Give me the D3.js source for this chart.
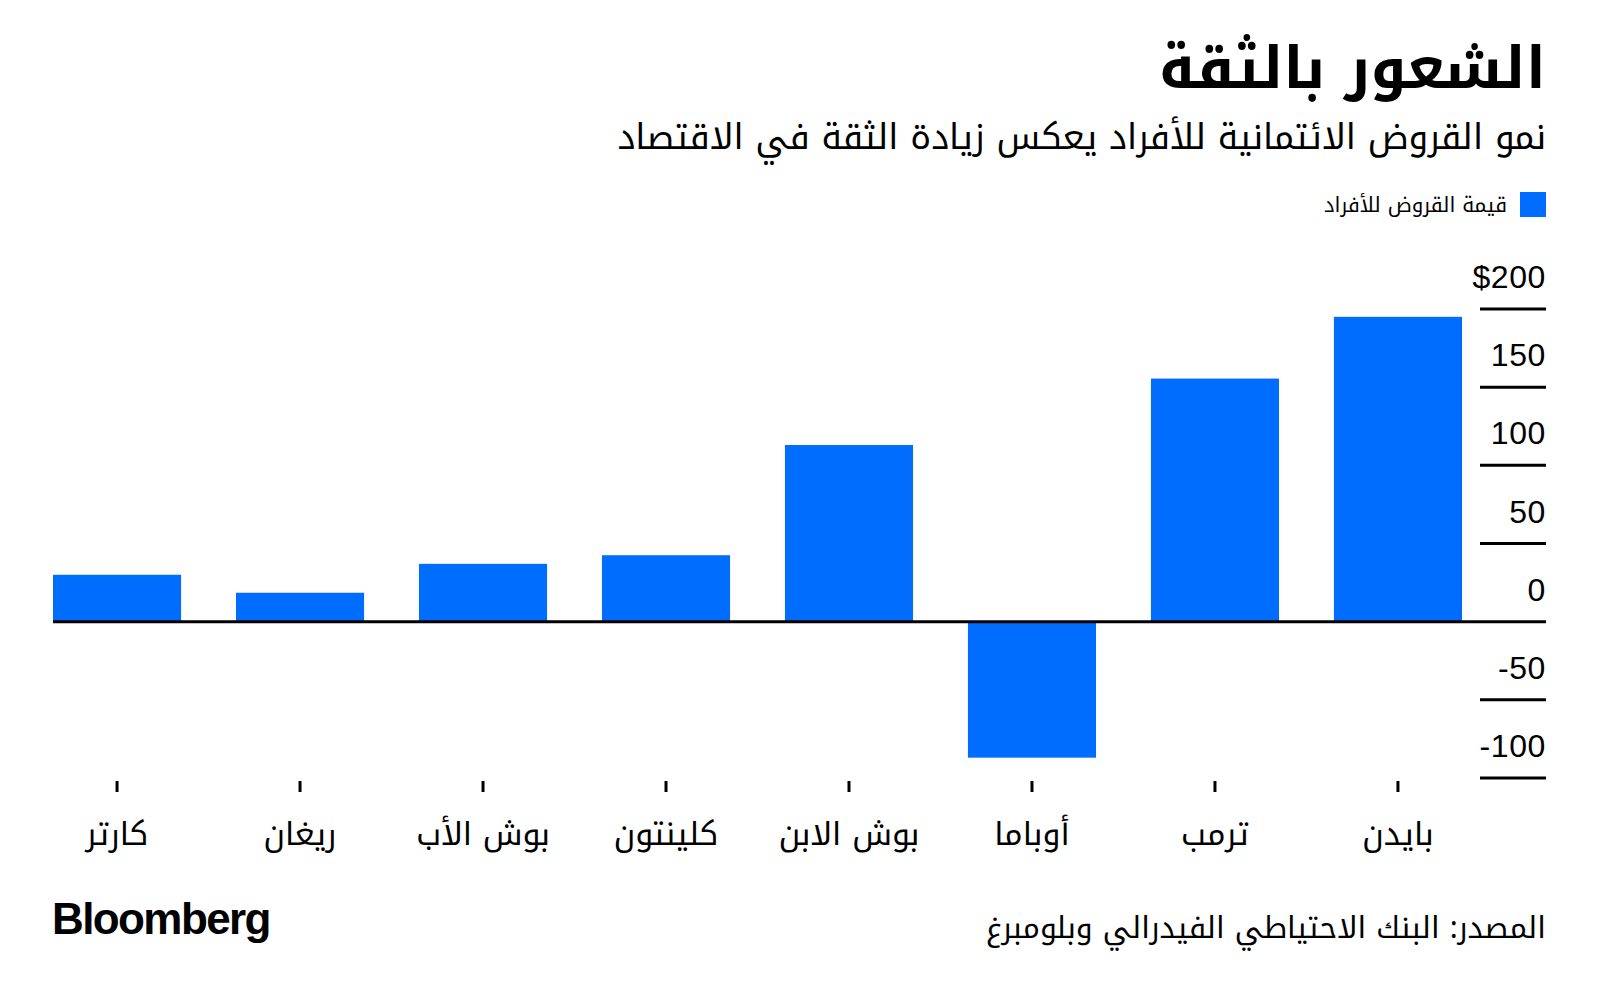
<!DOCTYPE html>
<html><head><meta charset="utf-8">
<script src="https://cdn.jsdelivr.net/npm/d3@7"></script>
<style>
html,body{margin:0;padding:0;background:#fff;}
svg{display:block;}
</style></head>
<body>
<svg id="chart" width="1600" height="999"></svg>
<script>
const categories = ["كارتر","ريغان","بوش الأب","كلينتون","بوش الابن","أوباما","ترمب","بايدن"];
const values = [30, 18.5, 37, 42.5, 113, -87, 155.5, 195];
const yTicks = [-100, -50, 0, 50, 100, 150, 200];
const yTickLabels = ["-100","-50","0","50","100","150","$200"];
const title = "الشعور بالثقة";
const subtitle = "نمو القروض الائتمانية للأفراد يعكس زيادة الثقة في الاقتصاد";
const legendLabel = "قيمة القروض للأفراد";
const source = "المصدر: البنك الاحتياطي الفيدرالي وبلومبرغ";

const AR = "'Noto Kufi Arabic','Noto Sans Arabic','DejaVu Sans',sans-serif";
const LAT = "'Liberation Sans',Arial,sans-serif";
const BLUE = "#006dff";
const svg = d3.select("#chart");
const R = 1546;

const x = d3.scaleBand().domain(categories).range([53, 1462]).paddingInner(0.3).paddingOuter(0);
const y = d3.scaleLinear().domain([-100, 200]).range([778, 309]);

// title
svg.append("text").attr("x", R).attr("y", 88).attr("direction","rtl").attr("text-anchor","start")
  .style("font-family", AR).style("font-weight","bold").style("font-size","58px").attr("fill","#000").text(title);
svg.append("text").attr("x", R).attr("y", 149).attr("direction","rtl").attr("text-anchor","start")
  .style("font-family", AR).style("font-size","35px").attr("fill","#000").text(subtitle);

// legend
svg.append("rect").attr("x", 1520).attr("y", 192).attr("width", 26).attr("height", 25).attr("fill", BLUE);
svg.append("text").attr("x", 1507).attr("y", 212).attr("direction","rtl").attr("text-anchor","start")
  .style("font-family", AR).style("font-size","20.5px").attr("fill","#000").text(legendLabel);

// gridlines + labels
const g = svg.append("g");
g.selectAll("line.grid").data(yTicks.filter(t => t !== 0)).enter().append("line")
  .attr("x1", 1480).attr("x2", R).attr("y1", d => y(d)).attr("y2", d => y(d))
  .attr("stroke", "#000").attr("stroke-width", 3);
g.selectAll("text.yl").data(yTicks).enter().append("text")
  .attr("x", R).attr("y", d => y(d) - 21).attr("text-anchor","end")
  .style("font-family", LAT).style("font-size","32px").style("letter-spacing","0.6px").attr("fill","#000")
  .text((d,i) => yTickLabels[i]);

// bars
svg.selectAll("rect.bar").data(values).enter().append("rect")
  .attr("x", (d,i) => x(categories[i]))
  .attr("width", x.bandwidth())
  .attr("y", d => y(Math.max(0, d)))
  .attr("height", d => Math.abs(y(d) - y(0)))
  .attr("fill", BLUE);

// zero line
svg.append("line").attr("x1", 53).attr("x2", R).attr("y1", y(0)).attr("y2", y(0))
  .attr("stroke", "#000").attr("stroke-width", 3);

// x ticks and labels
svg.selectAll("line.xt").data(categories).enter().append("line")
  .attr("x1", d => x(d) + x.bandwidth()/2).attr("x2", d => x(d) + x.bandwidth()/2)
  .attr("y1", 781).attr("y2", 792).attr("stroke","#000").attr("stroke-width", 3);
svg.selectAll("text.xl").data(categories).enter().append("text")
  .attr("x", d => x(d) + x.bandwidth()/2).attr("y", 845).attr("text-anchor","middle")
  .attr("direction","rtl")
  .style("font-family", AR).style("font-size","32px").attr("fill","#000").text(d => d);

// source
svg.append("text").attr("x", R).attr("y", 938).attr("direction","rtl").attr("text-anchor","start")
  .style("font-family", AR).style("font-size","30px").attr("fill","#000").text(source);

// logo
svg.append("text").attr("x", 52).attr("y", 934).attr("text-anchor","start")
  .style("font-family", LAT).style("font-weight","bold").style("font-size","44px")
  .style("letter-spacing","-1.6px").attr("fill","#000").text("Bloomberg");
</script>
</body></html>
